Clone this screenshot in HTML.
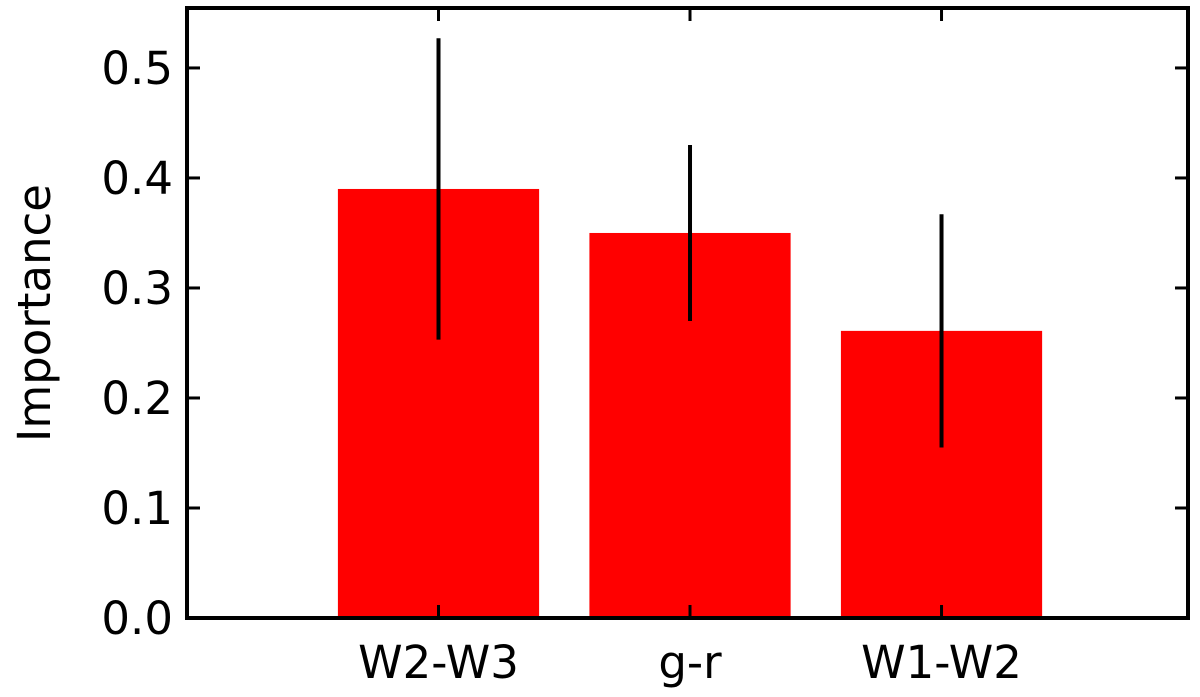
<!DOCTYPE html>
<html><head><meta charset="utf-8"><style>
html,body{margin:0;padding:0;background:#fff;}
svg{display:block;font-family:"DejaVu Sans","Liberation Sans",sans-serif;}
</style></head><body>
<svg id="chart" width="1200" height="697" viewBox="0 0 1200 697" xmlns="http://www.w3.org/2000/svg"></svg>
<script>
const categories = ["W2-W3", "g-r", "W1-W2"];
const importance = [0.39, 0.35, 0.261];
const errors = [0.137, 0.08, 0.106];
const yTicks = [0.0, 0.1, 0.2, 0.3, 0.4, 0.5];
const yTickLabels = ["0.0", "0.1", "0.2", "0.3", "0.4", "0.5"];

const L = 187, R = 1188, T = 8, B = 618;
const xMin = -1.0, xMax = 2.98, yMin = 0, yMax = 0.5545;
const xs = v => L + (v - xMin) / (xMax - xMin) * (R - L);
const ys = v => B - (v - yMin) / (yMax - yMin) * (B - T);
const NS = "http://www.w3.org/2000/svg";
const svg = document.getElementById("chart");
function mk(tag, attrs, parent) {
  const e = document.createElementNS(NS, tag);
  for (const k in attrs) e.setAttribute(k, attrs[k]);
  (parent || svg).appendChild(e);
  return e;
}
const barW = 0.8;
categories.forEach((c, i) => {
  const b = mk("rect", {x: xs(i - barW/2), y: ys(importance[i]), width: xs(i + barW/2) - xs(i - barW/2), height: ys(0) - ys(importance[i]), fill: "#ff0000"});
  
  
});
categories.forEach((c, i) => {
  const e = mk("line", {x1: xs(i), x2: xs(i), y1: ys(importance[i] - errors[i]), y2: ys(importance[i] + errors[i]), stroke: "#000", "stroke-width": 4});
  
  
});
yTicks.forEach((v, i) => {
  const y = ys(v);
  const t1 = mk("line", {x1: L, x2: L + 13, y1: y, y2: y, stroke: "#000", "stroke-width": 3});
  
  
  const t2 = mk("line", {x1: R - 13, x2: R, y1: y, y2: y, stroke: "#000", "stroke-width": 3});
  
  
  const lb = mk("text", {x: L - 14, y: y + 16, "text-anchor": "end", "font-size": 45, fill: "#000"});
  lb.textContent = yTickLabels[i];
  
  
});
categories.forEach((c, i) => {
  const x = xs(i);
  const t1 = mk("line", {x1: x, x2: x, y1: B, y2: B - 13, stroke: "#000", "stroke-width": 3});
  
  
  const t2 = mk("line", {x1: x, x2: x, y1: T, y2: T + 13, stroke: "#000", "stroke-width": 3});
  
  
  const lb = mk("text", {x: x, y: 678, "text-anchor": "middle", "font-size": 45, fill: "#000"});
  lb.textContent = c;
  
  
});
const frame = mk("rect", {x: L, y: T, width: R - L, height: B - T, fill: "none", stroke: "#000", "stroke-width": 4});


const yl = mk("text", {x: 0, y: 0, transform: "translate(50," + ((T + B) / 2) + ") rotate(-90)", "text-anchor": "middle", "font-size": 45, fill: "#000"});
yl.textContent = "Importance";


</script>
</body></html>
